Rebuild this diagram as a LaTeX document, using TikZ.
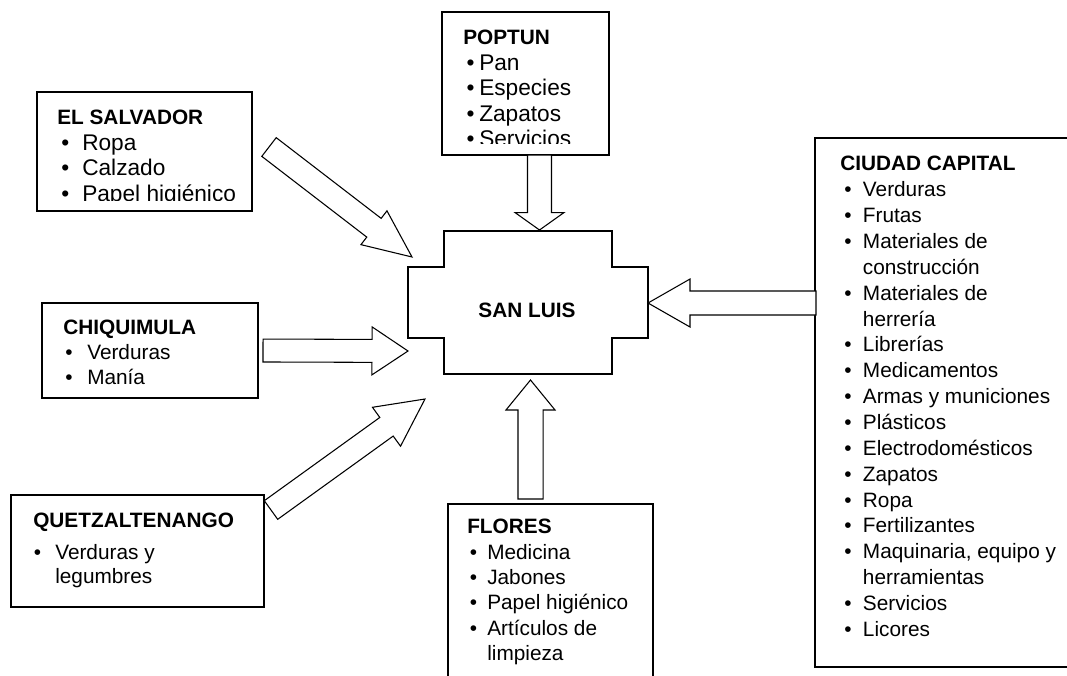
\documentclass[tikz,border=0pt]{standalone}
\usepackage{fontspec}
\setmainfont{Liberation Sans}
\usetikzlibrary{calc,fit}
\newcommand{\blt}[2]{\makebox[#1][l]{\hspace*{#2}\textbullet}}
\newcommand{\ind}[1]{\makebox[#1]{}}
\newcommand{\ttl}[1]{{\bfseries\fontsize{15.6}{19}\selectfont #1}}
\newcommand{\fatarrow}[5]{%
  \path (#1) coordinate (fa-s) (#2) coordinate (fa-e);
  \coordinate (fa-b) at ($(fa-e)!#5!(fa-s)$);
  \draw[fatarrowstyle] ($(fa-s)!#3!90:(fa-e)$) -- ($(fa-b)!#3!-90:(fa-s)$) -- ($(fa-b)!#4!-90:(fa-s)$) -- (fa-e) -- ($(fa-b)!#4!90:(fa-s)$) -- ($(fa-b)!#3!90:(fa-s)$) -- ($(fa-s)!#3!-90:(fa-e)$) -- cycle;}
\begin{document}
\begin{tikzpicture}[x=0.75pt,y=-0.75pt,
  box/.style={draw, line width=1pt, inner sep=0pt, fill=white},
  txt/.style={inner sep=0pt, anchor=north west, align=left},
  fatarrowstyle/.style={draw, line width=0.8pt, fill=white, line join=miter},
  hub/.style={draw, line width=1.2pt}]
\useasboundingbox (0,0) rectangle (1067,675);
\clip (0,0) rectangle (1067,675);

% ---------- POPTUN
\node[box, fit={(442,12) (609,155)}] (poptun) {};
\begin{scope}
\clip (poptun.north west) rectangle ($(poptun.south east)+(0,-12)$);
\node[txt, font=\fontsize{17}{19.1}\selectfont] (poptunt) at (463,27.2) {\rule{0pt}{13pt}\ttl{POPTUN}\\
\blt{12pt}{2.5pt}Pan\\
\blt{12pt}{2.5pt}Especies\\
\blt{12pt}{2.5pt}Zapatos\\
\blt{12pt}{2.5pt}Servicios};
\end{scope}

% ---------- EL SALVADOR
\node[box, fit={(37,92) (252,211)}] (elsal) {};
\begin{scope}
\clip (elsal.north west) rectangle ($(elsal.south east)+(0,-11)$);
\node[txt, font=\fontsize{17}{19.1}\selectfont] (elsalt) at (57,107.2) {\rule{0pt}{13pt}\ttl{EL SALVADOR}\\
\blt{18.75pt}{3pt}Ropa\\
\blt{18.75pt}{3pt}Calzado\\
\blt{18.75pt}{3pt}Papel higiénico};
\end{scope}

% ---------- CHIQUIMULA
\node[box, fit={(42,303) (258,398)}] (chiq) {};
\node[txt, font=\fontsize{15.6}{18.8}\selectfont] (chiqt) at (63,316.7) {\rule{0pt}{13pt}\ttl{CHIQUIMULA}\\
\blt{18pt}{1.5pt}Verduras\\
\blt{18pt}{1.5pt}Manía};

% ---------- QUETZALTENANGO
\node[box, fit={(11,495) (264,607)}] (quetz) {};
\node[txt, font=\fontsize{15.6}{18}\selectfont] (quetzt) at (33,510.2) {\rule{0pt}{13pt}\ttl{QUETZALTENANGO}\\[5.5pt]
\blt{16.5pt}{0.5pt}Verduras y\\
\ind{16.5pt}legumbres};

% ---------- FLORES
\node[box, fit={(448,504) (653,700)}] (flores) {};
\node[txt, font=\fontsize{15.6}{19}\selectfont] (florest) at (467,516.2) {\rule{0pt}{13pt}\ttl{FLORES}\\
\blt{15pt}{2pt}Medicina\\
\blt{15pt}{2pt}Jabones\\
\blt{15pt}{2pt}Papel higiénico\\
\blt{15pt}{2pt}Artículos de\\
\ind{15pt}limpieza};

% ---------- CIUDAD CAPITAL
\node[box, fit={(815,138) (1085,667)}] (capital) {};
\node[txt, font=\fontsize{15.6}{19.4}\selectfont] (capitalt) at (840,153.2) {\rule{0pt}{13pt}\ttl{CIUDAD CAPITAL}\\
\blt{17pt}{3pt}Verduras\\
\blt{17pt}{3pt}Frutas\\
\blt{17pt}{3pt}Materiales de\\
\ind{17pt}construcción\\
\blt{17pt}{3pt}Materiales de\\
\ind{17pt}herrería\\
\blt{17pt}{3pt}Librerías\\
\blt{17pt}{3pt}Medicamentos\\
\blt{17pt}{3pt}Armas y municiones\\
\blt{17pt}{3pt}Plásticos\\
\blt{17pt}{3pt}Electrodomésticos\\
\blt{17pt}{3pt}Zapatos\\
\blt{17pt}{3pt}Ropa\\
\blt{17pt}{3pt}Fertilizantes\\
\blt{17pt}{3pt}Maquinaria, equipo y\\
\ind{17pt}herramientas\\
\blt{17pt}{3pt}Servicios\\
\blt{17pt}{3pt}Licores};

% ---------- SAN LUIS
\draw[hub] (444,231) -- (612,231) -- (612,267) -- (648,267) -- (648,338) -- (612,338) -- (612,374) -- (444,374) -- (444,338) -- (408,338) -- (408,267) -- (444,267) -- cycle;
\node[inner sep=0pt, font=\bfseries\fontsize{15.6}{19}\selectfont] (sanluis) at (527,310) {SAN LUIS};

% ---------- arrows
\coordinate (a1s) at (269,147);   \coordinate (a1e) at (412,257);
\coordinate (a2s) at (263,350.5); \coordinate (a2e) at (408,351);
\coordinate (a3s) at (271,510);   \coordinate (a3e) at (425,399);
\coordinate (a4s) at (539.5,155); \coordinate (a4e) at (539.5,230);
\coordinate (a5s) at (530.5,499); \coordinate (a5e) at (530.5,380);
\coordinate (a6s) at (816,303);   \coordinate (a6e) at (648,303);
\fatarrow{a1s}{a1e}{8.85pt}{16pt}{36pt}
\fatarrow{a2s}{a2e}{8.6pt}{18pt}{27pt}
\fatarrow{a3s}{a3e}{8.6pt}{18pt}{35.6pt}
\fatarrow{a4s}{a4e}{9pt}{18.4pt}{13.1pt}
\fatarrow{a5s}{a5e}{9.4pt}{18.4pt}{22.5pt}
\fatarrow{a6s}{a6e}{9pt}{18pt}{31.5pt}
\end{tikzpicture}
\end{document}
